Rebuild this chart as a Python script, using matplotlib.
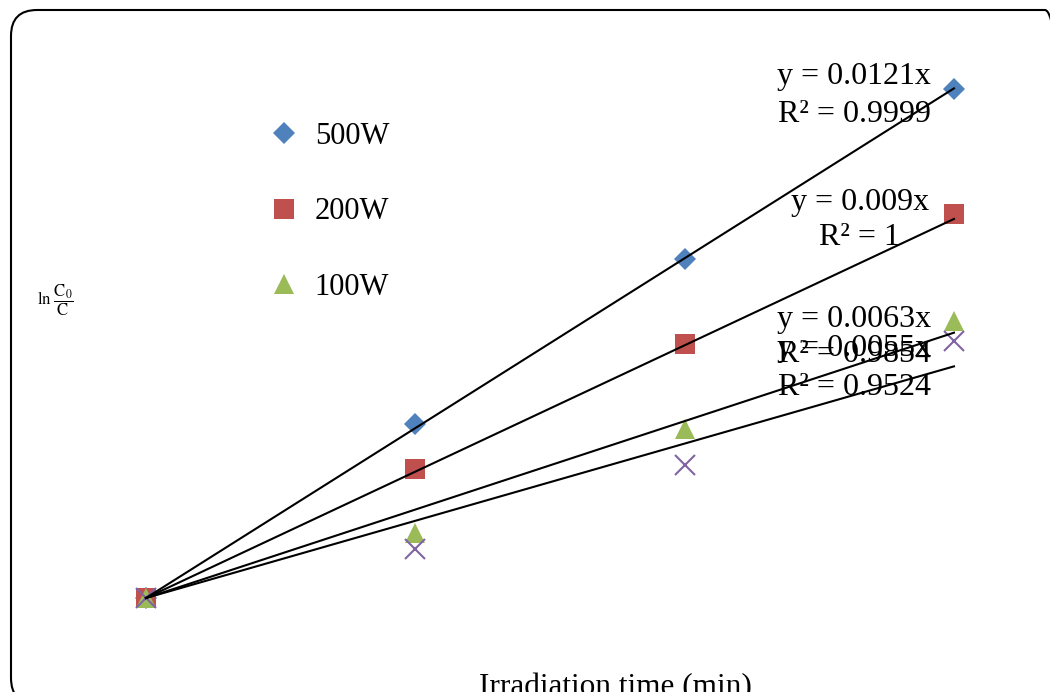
# ln(C0/C) vs irradiation time for different lamp powers, with linear trendlines through origin
import numpy as np
import matplotlib.pyplot as plt
from matplotlib.patches import FancyBboxPatch

plt.rcParams['font.family'] = ['Liberation Serif', 'DejaVu Serif']
plt.rcParams['mathtext.fontset'] = 'stix'

# ---------------------------------
# Data
# ---------------------------------
time_min = [0, 20, 40, 60]
series_names = ['500W', '200W', '100W', '']
ln_c0_c = [
    [0.0, 0.248, 0.483, 0.725],
    [0.0, 0.184, 0.362, 0.547],
    [0.0, 0.093, 0.241, 0.395],
    [0.0, 0.070, 0.189, 0.366],
]
slopes = [0.0121, 0.009, 0.0063, 0.0055]
eq_labels = ['y = 0.0121x', 'y = 0.009x', 'y = 0.0063x', 'y = 0.0055x']
r2_labels = ['R² = 0.9999', 'R² = 1', 'R² = 0.9854', 'R² = 0.9524']

colors = ['#4F81BD', '#C0504D', '#9BBB59', '#8064A2']
markers = ['D', 's', '^', 'x']
msizes = [11.2, 14, 15, 15]

# label positions (x centre, baseline of eq line, baseline of R² line) in data units
label_x = [52.6, 53.0, 52.6, 52.6]
eq_y = [0.732, 0.553, 0.386, 0.345]
r2_y = [0.678, 0.503, 0.336, 0.289]

# ---------------------------------
# Plot
# ---------------------------------
W, H = 1050, 692
fig = plt.figure(figsize=(W / 100, H / 100), dpi=100)
ax = fig.add_axes([0, 0, 1, 1])
ax.set_xlim(-10.84, 67.13)
ax.set_ylim(-0.1339, 0.8519)
ax.axis('off')

handles = []
xfit = np.array([0, 60])
for i in range(4):
    ax.plot(xfit, slopes[i] * xfit, color='black', lw=1.5, zorder=3)
    mew = 1.5 if markers[i] == 'x' else 0
    h, = ax.plot(time_min, ln_c0_c[i], linestyle='none', marker=markers[i],
                 color=colors[i], markersize=msizes[i], markeredgewidth=mew,
                 zorder=2)
    handles.append(h)
    ax.text(label_x[i], eq_y[i], eq_labels[i], ha='center', va='baseline',
            fontsize=23, zorder=4)
    ax.text(label_x[i], r2_y[i], r2_labels[i], ha='center', va='baseline',
            fontsize=23, zorder=4)

leg = ax.legend(handles[:3], series_names[:3], loc='upper left',
                bbox_to_anchor=(269 / W, 1 - 122 / H), frameon=False,
                fontsize=22, handlelength=1.0, handletextpad=0.5,
                labelspacing=1.52, borderpad=0, borderaxespad=0)

fig.text(55 / W, 1 - 300 / H, r'$\ln\,\dfrac{\mathrm{C_0}}{\mathrm{C}}$',
         fontsize=12, ha='center', va='center')
fig.text(615 / W, -3 / H, 'Irradiation time (min)', fontsize=22.5,
         ha='center', va='baseline')

# rounded chart-area border, running off the right and bottom edges
frame = FancyBboxPatch((11 / W, -12 / H), 1060 / W, 694 / H,
                       boxstyle='round,pad=0,rounding_size=%f' % (26 / W),
                       mutation_aspect=W / H, transform=fig.transFigure,
                       fill=False, edgecolor='black', lw=1.5)
fig.add_artist(frame)

fig.savefig('out.png', dpi=100)
